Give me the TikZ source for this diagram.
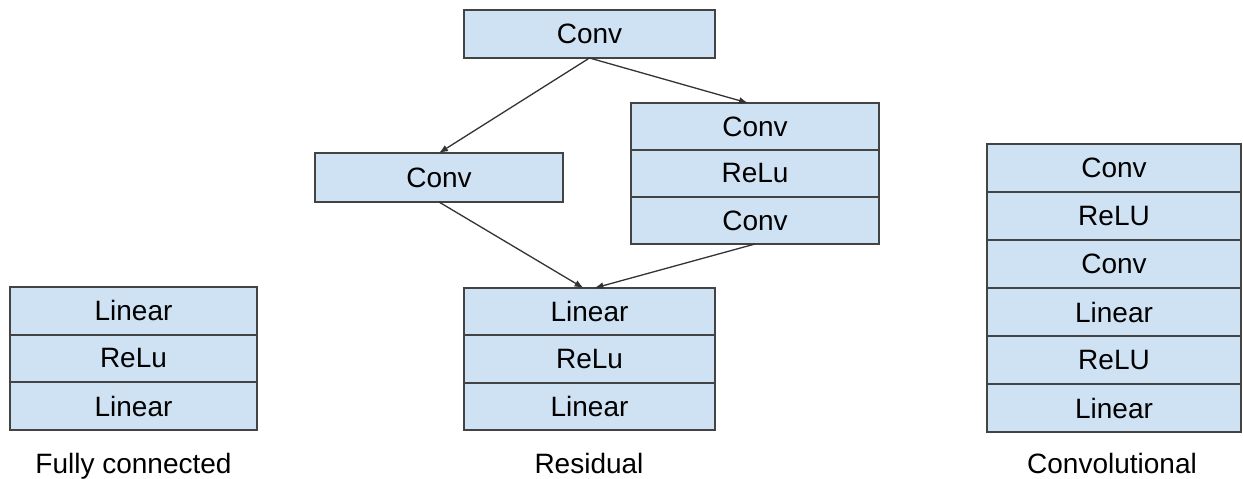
\documentclass[tikz,border=0pt]{standalone}
\usepackage{fontspec}
\setmainfont{Liberation Sans}
\usepackage{xcolor}
\usetikzlibrary{positioning, arrows.meta}

\definecolor{cellfill}{HTML}{CFE2F3}
\definecolor{cellline}{HTML}{434343}
\definecolor{arrowline}{HTML}{333333}

\begin{document}
\begin{tikzpicture}[
    x=1pt, y=-1pt,
    node distance=0pt,
    font=\fontsize{28}{32}\selectfont,
    layer/.style={
        rectangle,
        draw=cellline,
        fill=cellfill,
        line width=2pt,
        minimum width=248pt,
        minimum height=47.5pt,
        inner sep=0pt,
        outer sep=0pt
    },
    caption/.style={inner sep=0pt, anchor=base},
    arr/.style={-{Latex[length=9pt, width=7pt]}, line width=1.3pt, draw=arrowline}
]
\useasboundingbox (0,0) rectangle (1243,479);

% fully connected
\node[layer, minimum width=247pt, minimum height=47.7pt] (fc1) at (133.5,310.8) {Linear};
\node[layer, minimum width=247pt, minimum height=47.7pt, below=of fc1] (fc2) {ReLu};
\node[layer, minimum width=247pt, minimum height=47.7pt, below=of fc2] (fc3) {Linear};
\node[caption] (fclabel) at (133.5,473) {Fully connected};

% residual
\node[layer, minimum width=251pt, minimum height=48pt] (rtop) at (589.5,34) {Conv};
\node[layer, minimum height=49pt] (lconv) at (439,177.5) {Conv};
\node[layer, minimum height=47pt] (rb1) at (755,126.5) {Conv};
\node[layer, minimum height=47pt, below=of rb1] (rb2) {ReLu};
\node[layer, minimum height=47pt, below=of rb2] (rb3) {Conv};
\node[layer, minimum width=251pt, minimum height=47.3pt] (res1) at (589.5,311.7) {Linear};
\node[layer, minimum width=251pt, minimum height=47.3pt, below=of res1] (res2) {ReLu};
\node[layer, minimum width=251pt, minimum height=47.3pt, below=of res2] (res3) {Linear};
\node[caption] (reslabel) at (589,473) {Residual};

\draw[arr] (rtop.south) -- (lconv.north);
\draw[arr] (rtop.south) -- ([xshift=-7pt]rb1.north);
\draw[arr] (lconv.south) -- ([xshift=-6pt]res1.north);
\draw[arr] (rb3.south) -- ([xshift=5pt]res1.north);

% convolutional
\node[layer, minimum width=254pt, minimum height=48pt] (cv1) at (1114,168) {Conv};
\node[layer, minimum width=254pt, minimum height=48pt, below=of cv1] (cv2) {ReLU};
\node[layer, minimum width=254pt, minimum height=48pt, below=of cv2] (cv3) {Conv};
\node[layer, minimum width=254pt, minimum height=48pt, below=of cv3] (cv4) {Linear};
\node[layer, minimum width=254pt, minimum height=48pt, below=of cv4] (cv5) {ReLU};
\node[layer, minimum width=254pt, minimum height=48pt, below=of cv5] (cv6) {Linear};
\node[caption] (cvlabel) at (1112,473) {Convolutional};
\end{tikzpicture}
\end{document}
